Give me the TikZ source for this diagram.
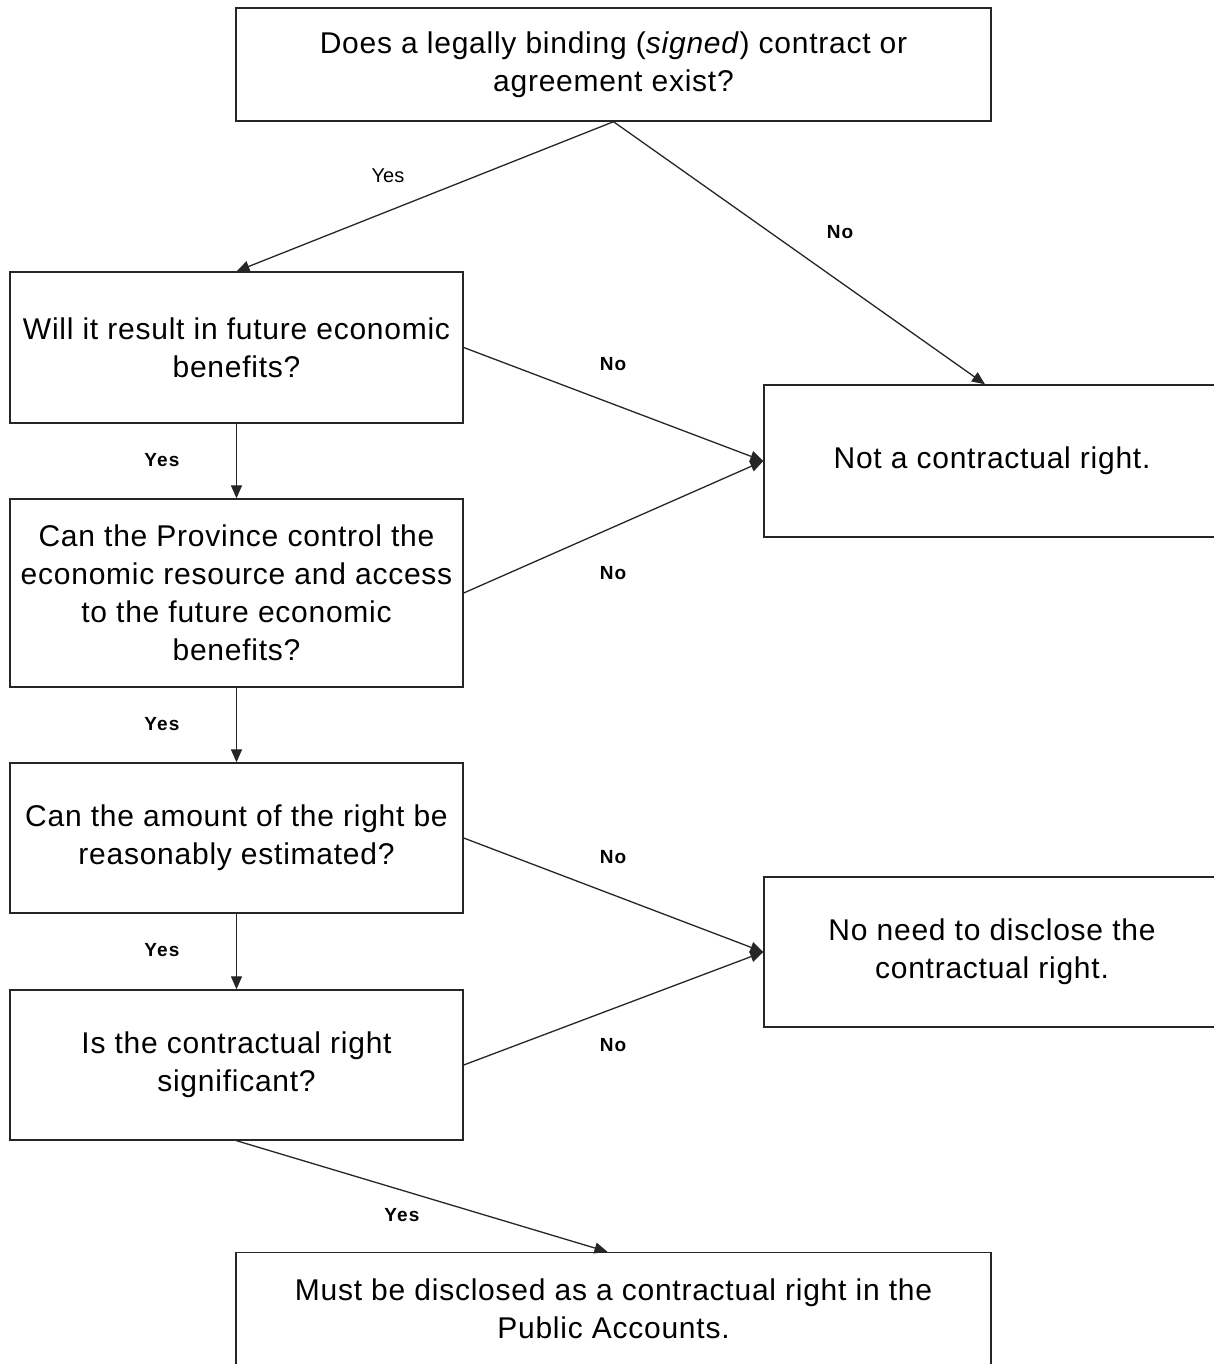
\documentclass[tikz,border=0pt]{standalone}
\usepackage{fontspec}
\setmainfont{Liberation Sans}
\usetikzlibrary{arrows.meta}
\begin{document}
\begin{tikzpicture}[x=1pt,y=-1pt,
  box/.style={draw=black!85,line width=1.4pt,rectangle,align=center,inner sep=0pt,
    font=\fontsize{30}{38}\selectfont\addfontfeature{LetterSpace=2.5}},
  conn/.style={draw=black!85,line width=1.3pt,-{Triangle[length=13pt,width=11pt]}},
  lblb/.style={font=\fontsize{19}{22}\selectfont\bfseries\addfontfeature{LetterSpace=6}},
  lbl/.style={font=\fontsize{20}{22}\selectfont}]
\useasboundingbox (0,0) rectangle (1214,1364);
\fill[white] (0,0) rectangle (1214,1364);
\node[box,minimum width=755pt,minimum height=113pt] (top) at (613.5,64.5)
  {Does a legally binding (\textit{signed}) contract or\\agreement exist?};
\node[box,minimum width=453pt,minimum height=151pt] (b2) at (236.5,347.5)
  {Will it result in future economic\\benefits?};
\node[box,minimum width=453pt,minimum height=188pt] (b3) at (236.5,593)
  {Can the Province control the\\economic resource and access\\to the future economic\\benefits?};
\node[box,minimum width=453pt,minimum height=150pt] (b4) at (236.5,838)
  {Can the amount of the right be\\reasonably estimated?};
\node[box,minimum width=453pt,minimum height=150pt] (b5) at (236.5,1065)
  {Is the contractual right\\significant?};
\node[box,minimum width=456pt,minimum height=152pt] (ncr) at (992,461)
  {Not a contractual right.};
\node[box,minimum width=456pt,minimum height=150pt] (nnd) at (992,952)
  {No need to disclose the\\contractual right.};
\node[box,minimum width=755pt,minimum height=113pt] (bot) at (613.5,1309)
  {Must be disclosed as a contractual right in the\\Public Accounts.};

\draw[conn] (top.south) -- (b2.north);
\draw[conn] (top.south) -- ([xshift=-7pt]ncr.north);
\draw[conn] (b2.east) -- (ncr.west);
\draw[conn] (b3.east) -- (ncr.west);
\draw[conn] (b2.south) -- (b3.north);
\draw[conn] (b3.south) -- (b4.north);
\draw[conn] (b4.east) -- (nnd.west);
\draw[conn] (b5.east) -- (nnd.west);
\draw[conn] (b4.south) -- (b5.north);
\draw[conn] (b5.south) -- ([xshift=-6pt]bot.north);

\node[lbl] (l1) at (388,176) {Yes};
\node[lblb] (l2) at (840,232) {No};
\node[lblb] (l3) at (613,364) {No};
\node[lblb] (l4) at (613,573) {No};
\node[lblb] (l5) at (162,460) {Yes};
\node[lblb] (l6) at (162,724) {Yes};
\node[lblb] (l7) at (613,857) {No};
\node[lblb] (l8) at (613,1045) {No};
\node[lblb] (l9) at (162,950) {Yes};
\node[lblb] (l10) at (402,1215) {Yes};
\end{tikzpicture}
\end{document}
